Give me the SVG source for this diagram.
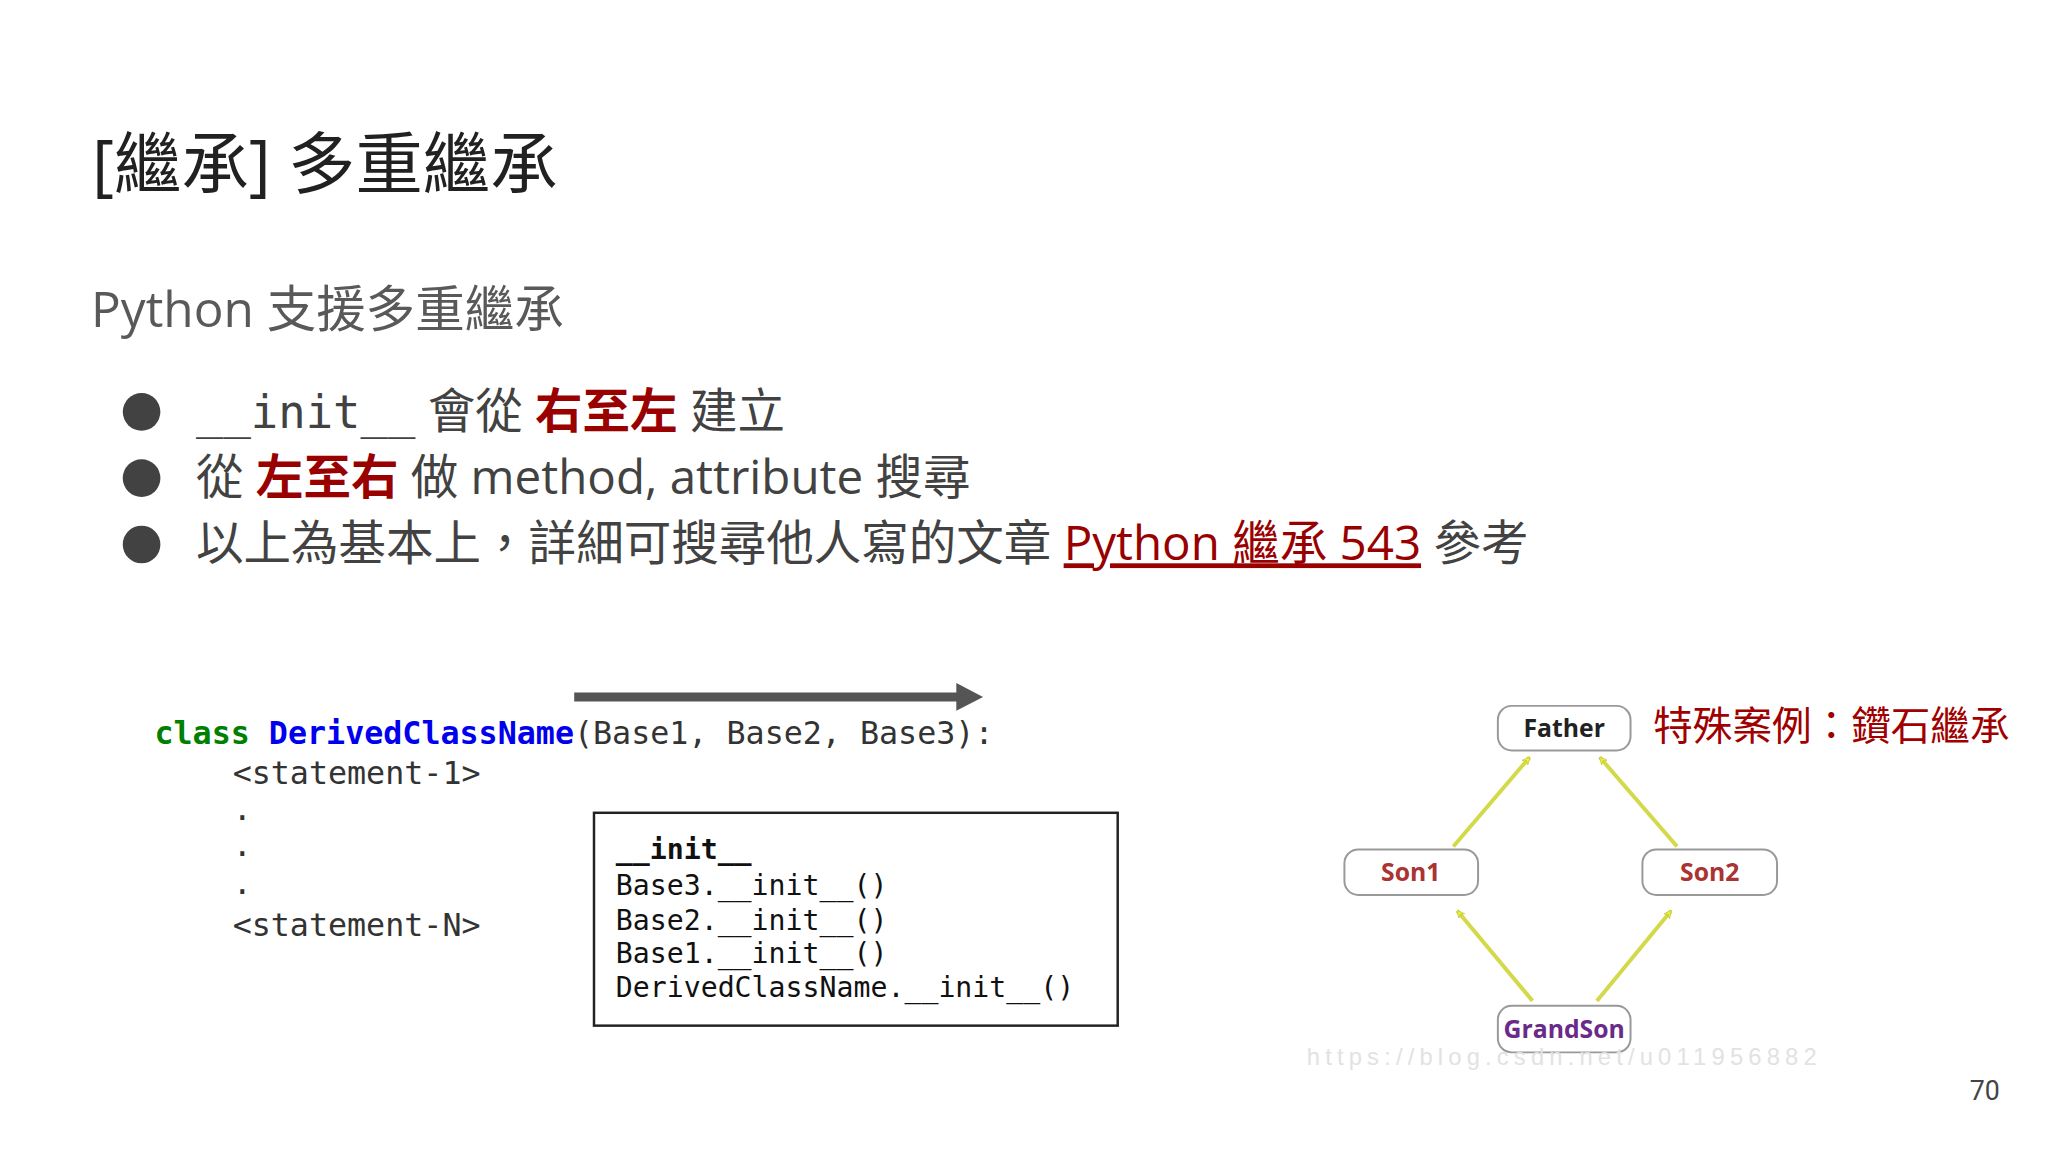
<svg xmlns="http://www.w3.org/2000/svg" width="2048" height="1152" viewBox="0 0 2048 1152">
<style>
.cjk{font-family:"Open Sans","Noto Sans","Noto Sans CJK TC",sans-serif}
.mono{font-family:"DejaVu Sans Mono","Liberation Mono",monospace}
.red{fill:#990000;font-weight:bold}
.node rect{fill:#fff;stroke:#999;stroke-width:2}
.node text{font-family:"Open Sans","Noto Sans",sans-serif;font-size:25px;font-weight:bold;text-anchor:middle}
.yl{stroke:#d4d94a;stroke-width:4;marker-end:url(#ya)}
</style>
<defs>
<marker id="ya" viewBox="0 0 12 12" refX="11" refY="6" markerWidth="8" markerHeight="8" orient="auto" markerUnits="userSpaceOnUse">
<path d="M0,0 L12,6 L0,12 L4,6 Z" fill="#ecf03a" stroke="#b8bb30" stroke-width="0.8"/>
</marker>
</defs>
<rect width="2048" height="1152" fill="#fff"/>
<g transform="scale(0.99)">
<text x="93" y="190" class="cjk" font-size="68" fill="#212121">[繼承] 多重繼承</text>
<text x="92" y="330" class="cjk" font-size="50" fill="#595959">Python 支援多重繼承</text>
<g fill="#424242">
<circle cx="143" cy="416" r="19"/><circle cx="143" cy="483" r="19"/><circle cx="143" cy="550" r="19"/>
</g>
<text x="198" y="432" class="cjk" font-size="48" fill="#424242"><tspan class="mono" font-size="46">__init__</tspan>  會從 <tspan class="red">右至左</tspan> 建立</text>
<text x="198" y="499" class="cjk" font-size="48" fill="#424242">從 <tspan class="red">左至右</tspan> 做 method, attribute 搜尋</text>
<text x="198" y="566" class="cjk" font-size="48" fill="#424242">以上為基本上，詳細可搜尋他人寫的文章 <tspan fill="#990000" text-decoration="underline">Python 繼承 543</tspan> 參考</text>
<g id="order-arrow"><line x1="580" y1="704" x2="968" y2="704" stroke="#555" stroke-width="9"/><path d="M966,690 L993,704 L966,718 Z" fill="#555"/></g>
<g id="code" class="mono" font-size="32" fill="#333">
<text x="156" y="752" xml:space="preserve"><tspan fill="#008000" font-weight="bold">class</tspan> <tspan fill="#0000ee" font-weight="bold">DerivedClassName</tspan>(Base1, Base2, Base3):</text>
<text x="235" y="792">&lt;statement-1&gt;</text>
<text x="235" y="828">.</text><text x="235" y="865">.</text><text x="235" y="903">.</text>
<text x="235" y="945">&lt;statement-N&gt;</text>
</g>
<g id="initbox" class="mono" font-size="28.5" fill="#111">
<rect x="600" y="821" width="529" height="215" fill="#fff" stroke="#222" stroke-width="2.5"/>
<text x="622" y="868" font-weight="bold">__init__</text>
<text x="622" y="904">Base3.__init__()</text>
<text x="622" y="939">Base2.__init__()</text>
<text x="622" y="973">Base1.__init__()</text>
<text x="622" y="1007">DerivedClassName.__init__()</text>
</g>
<g id="connectors">
<line class="yl" x1="1468" y1="855" x2="1545" y2="765"/>
<line class="yl" x1="1694" y1="855" x2="1616" y2="765"/>
<line class="yl" x1="1548" y1="1011" x2="1472" y2="920"/>
<line class="yl" x1="1613" y1="1011" x2="1688" y2="920"/>
</g>
<g id="father" class="node"><rect x="1513" y="713" width="134" height="45" rx="14"/><text x="1580" y="744" fill="#222">Father</text></g>
<g id="son1" class="node"><rect x="1358" y="858" width="135" height="46" rx="14"/><text x="1425" y="890" fill="#a33">Son1</text></g>
<g id="son2" class="node"><rect x="1659" y="858" width="136" height="46" rx="14"/><text x="1727" y="890" fill="#a33">Son2</text></g>
<g id="grandson" class="node"><rect x="1513" y="1016" width="134" height="47" rx="14"/><text x="1580" y="1049" fill="#6a2a8a">GrandSon</text></g>
<text x="1670" y="747" class="cjk" font-size="40" fill="#a00000">特殊案例：鑽石繼承</text>
<text x="1320" y="1076" font-family="Liberation Sans,sans-serif" font-size="24" fill="#e2e2e2" textLength="515">https://blog.csdn.net/u011956882</text>
<text x="2020" y="1111" font-family="Roboto,sans-serif" font-size="27" fill="#444" text-anchor="end">70</text>
</g>
</svg>
